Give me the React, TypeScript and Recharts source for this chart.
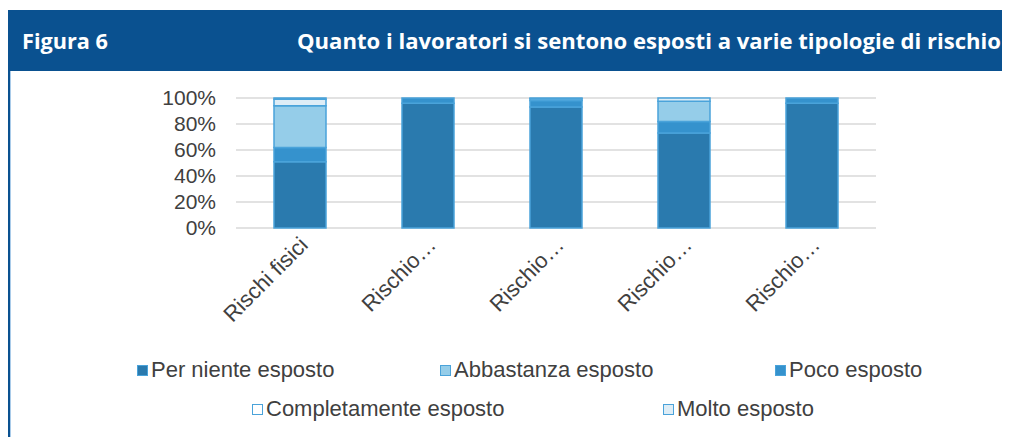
import { BarChart, Bar, XAxis, YAxis, CartesianGrid, Legend } from "recharts";

const categories = ["Rischi fisici", "Rischio…", "Rischio…", "Rischio…", "Rischio…"];
const perNiente = [51, 96, 93, 73, 96];
const poco = [11, 4, 5, 9, 4];
const abbastanza = [32, 0, 1.5, 15.5, 0];
const molto = [5, 0, 0.5, 2.5, 0];
const completamente = [1, 0, 0, 0, 0];
const yTicks = [0, 20, 40, 60, 80, 100];

const FONT = "'Liberation Sans', Arial, sans-serif";
const TEXT = "#404040";
const EDGE = "#4aa3da";

const series = [
  { key: "perNiente", name: "Per niente esposto", fill: "#2a7aae" },
  { key: "poco", name: "Poco esposto", fill: "#3592cd" },
  { key: "abbastanza", name: "Abbastanza esposto", fill: "#95cde9" },
  { key: "molto", name: "Molto esposto", fill: "#deedf6" },
  { key: "completamente", name: "Completamente esposto", fill: "#ffffff" },
];

// legend layout as in the original (two rows)
const legendRows = [
  [
    { key: "perNiente", left: 129 },
    { key: "abbastanza", left: 432 },
    { key: "poco", left: 767 },
  ],
  [
    { key: "completamente", left: 244 },
    { key: "molto", left: 655 },
  ],
];

const data = categories.map((c, i) => ({
  id: i,
  perNiente: perNiente[i],
  poco: poco[i],
  abbastanza: abbastanza[i],
  molto: molto[i],
  completamente: completamente[i],
}));

function XTick({ x, y, payload }: any) {
  return (
    <g transform={`translate(${x - 2},${y + 7})`}>
      <text
        x={0}
        y={0}
        textAnchor="end"
        transform="rotate(-45)"
        fontSize={22}
        fontFamily={FONT}
        fill={TEXT}
        dominantBaseline="hanging"
      >
        {categories[payload.value]}
      </text>
    </g>
  );
}

function ChartLegend() {
  return (
    <div style={{ position: "relative", height: 80, fontFamily: FONT, fontSize: 22, color: TEXT }}>
      {legendRows.map((row, r) =>
        row.map((item) => {
          const s = series.find((d) => d.key === item.key)!;
          return (
            <div
              key={item.key}
              style={{
                position: "absolute",
                left: item.left,
                top: r === 0 ? 0 : 39,
                display: "flex",
                alignItems: "center",
                height: 26,
                whiteSpace: "nowrap",
              }}
            >
              <span
                style={{
                  display: "inline-block",
                  width: 9,
                  height: 9,
                  background: s.fill,
                  border: `1.5px solid ${EDGE}`,
                  marginRight: 3,
                }}
              />
              {s.name}
            </div>
          );
        })
      )}
    </div>
  );
}

export default function App() {
  return (
    <div style={{ position: "relative", width: 1002, height: 429 }}>
      <BarChart
        width={1002}
        height={429}
        data={data}
        margin={{ top: 90, right: 134, bottom: 0, left: 0 }}
        barCategoryGap={38}
      >
        <CartesianGrid vertical={false} stroke="#d9d9d9" strokeWidth={1.5} />
        <XAxis
          dataKey="id"
          height={129}
          axisLine={false}
          tickLine={false}
          tickSize={0}
          tickMargin={0}
          interval={0}
          tick={<XTick />}
        />
        <YAxis
          width={228}
          domain={[0, 100]}
          ticks={yTicks}
          interval={0}
          axisLine={false}
          tickLine={false}
          tickSize={0}
          tickMargin={20}
          tickFormatter={(v) => `${v}%`}
          tick={{ fontSize: 21, fontFamily: FONT, fill: TEXT }}
        />
        <Legend verticalAlign="bottom" height={80} content={() => <ChartLegend />} />
        {series.map((s) => (
          <Bar
            key={s.key}
            dataKey={s.key}
            name={s.name}
            stackId="a"
            fill={s.fill}
            stroke={EDGE}
            strokeWidth={1.5}
            isAnimationActive={false}
          />
        ))}
      </BarChart>

      <div
        style={{
          position: "absolute",
          left: 0,
          top: 63,
          bottom: 0,
          width: 2,
          background: "#0a5190",
          borderRight: "1px solid #a9cbe9",
        }}
      />
      <svg
        width={1002}
        height={61}
        style={{ position: "absolute", left: 0, top: 2 }}
      >
        <rect x={0} y={0} width={1002} height={61} fill="#0a5190" />
        <text
          x={14}
          y={39}
          fill="#ffffff"
          fontFamily="'Open Sans', sans-serif"
          fontWeight={700}
          fontSize={21}
          textLength={86}
          lengthAdjust="spacingAndGlyphs"
        >
          Figura 6
        </text>
        <text
          x={289}
          y={39}
          fill="#ffffff"
          fontFamily="'Open Sans', sans-serif"
          fontWeight={700}
          fontSize={21}
          textLength={704}
          lengthAdjust="spacingAndGlyphs"
        >
          Quanto i lavoratori si sentono esposti a varie tipologie di rischio
        </text>
      </svg>
    </div>
  );
}
